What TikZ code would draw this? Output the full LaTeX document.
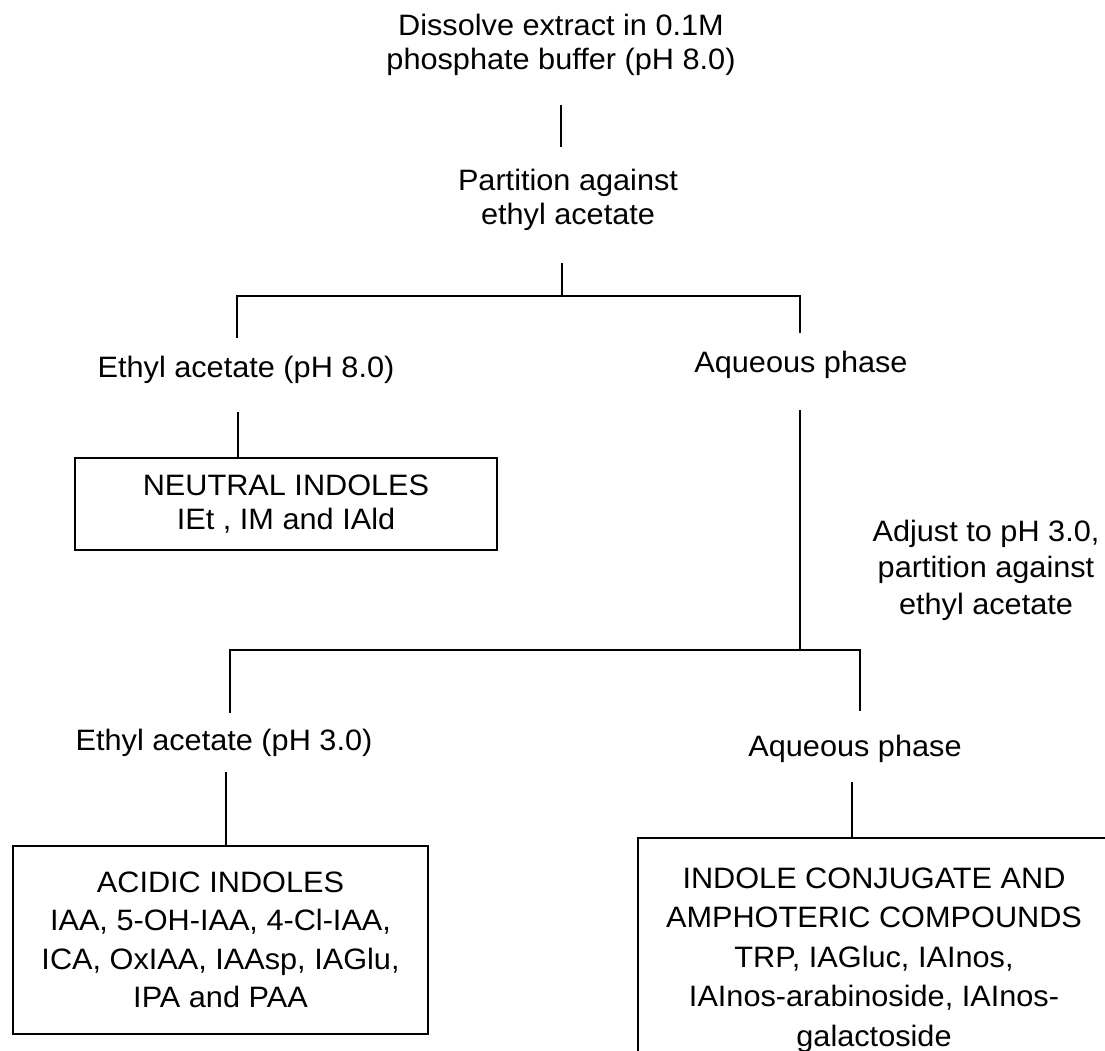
\documentclass[tikz,border=0pt]{standalone}
\usepackage{fontspec}
\setmainfont[FakeStretch=1.04]{Liberation Sans}
\begin{document}
\begin{tikzpicture}[x=1pt,y=-1pt,
  txt/.style={align=center, inner sep=0pt, font=\fontsize{29.5}{34}\selectfont, anchor=base},
  ln/.style={line width=1.2pt},
  boxline/.style={line width=1.5pt},
  boxst/.style={draw, line width=1.5pt, align=center, inner sep=0pt, font=\fontsize{29.5}{34}\selectfont}]
\useasboundingbox (0,0) rectangle (1105,1051);
\clip (0,0) rectangle (1105,1051);
% texts (base anchor = baseline of the last line)
\node[txt] (title) at (561,70) {Dissolve extract in 0.1M\\phosphate buffer (pH 8.0)};
\node[txt] (part) at (568,224) {Partition against\\ethyl acetate};
\node[txt] (eth8) at (246,377) {Ethyl acetate (pH 8.0)};
\node[txt] (aq1) at (801,372) {Aqueous phase};
\node[boxst, minimum width=422pt, minimum height=92pt] (neutral) at (286,504) {NEUTRAL INDOLES\\IEt , IM and IAld};
\node[txt, font=\fontsize{29.5}{36.5}\selectfont] (adjust) at (986,614) {Adjust to pH 3.0,\\partition against\\ethyl acetate};
\node[txt] (eth3) at (224,750) {Ethyl acetate (pH 3.0)};
\node[txt] (aq2) at (855,756) {Aqueous phase};
\node[boxst, font=\fontsize{29.5}{38.5}\selectfont, minimum width=415pt, minimum height=188pt] (acidic) at (220.5,940) {ACIDIC INDOLES\\IAA, 5-OH-IAA, 4-Cl-IAA,\\ICA, OxIAA, IAAsp, IAGlu,\\IPA and PAA};
\node[txt, font=\fontsize{29.5}{39.5}\selectfont] (conj) at (874,1046) {INDOLE CONJUGATE AND\\AMPHOTERIC COMPOUNDS\\TRP, IAGluc, IAInos,\\IAInos-arabinoside, IAInos-\\galactoside};
% connectors
\coordinate (v1a) at (561,105); \coordinate (v1b) at (561,147);
\draw[ln] (v1a) -- (v1b);
\coordinate (v2a) at (562,263); \coordinate (j1) at (562,296);
\coordinate (j1l) at (237,296); \coordinate (j1r) at (800,296);
\coordinate (e8top) at (237,338); \coordinate (aqtop) at (800,333);
\draw[ln] (v2a) -- (j1);
\draw[ln] (e8top) -- (j1l) -- (j1r) -- (aqtop);
\coordinate (n1) at (238,412);
\draw[ln] (n1) -- (n1 |- neutral.north);
\coordinate (a1) at (800,410); \coordinate (j2) at (800,650);
\coordinate (j2l) at (230,650); \coordinate (j2r) at (860,650);
\coordinate (e3top) at (230,713); \coordinate (aq2top) at (860,711);
\draw[ln] (a1) -- (j2);
\draw[ln] (e3top) -- (j2l) -- (j2r) -- (aq2top);
\coordinate (b1) at (226,772);
\draw[ln] (b1) -- (b1 |- acidic.north);
\coordinate (conjtl) at (638,838);
\coordinate (conjbl) at (638,1070);
\coordinate (conjtr) at (1120,838);
\coordinate (b2) at (852,782);
\draw[ln] (b2) -- (b2 |- conjtl);
\draw[boxline] (conjbl) -- (conjtl) -- (conjtr);
\end{tikzpicture}
\end{document}
